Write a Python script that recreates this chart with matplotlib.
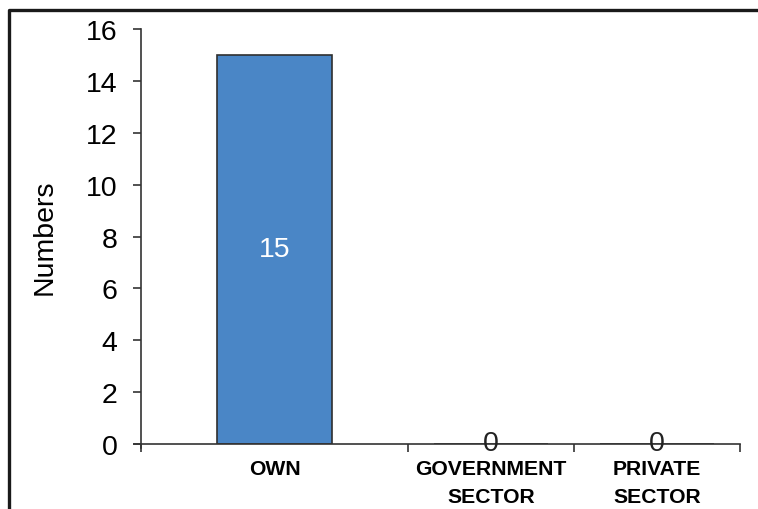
import matplotlib
matplotlib.use("Agg")
from matplotlib import pyplot as plt
from matplotlib.lines import Line2D

plt.rcParams['font.family'] = ['Liberation Sans', 'DejaVu Sans']

categories = ['OWN', 'GOVERNMENT\nSECTOR', 'PRIVATE\nSECTOR']
numbers = [15, 0, 0]
y_ticks = [0, 2, 4, 6, 8, 10, 12, 14, 16]

# category slots: the first one is wider than the other two
edges = [0, 1.61, 2.61, 3.61]
centers = [(edges[i] + edges[i + 1]) / 2 for i in range(len(categories))]

fig = plt.figure(figsize=(7.58, 5.10), dpi=100)
ax = fig.add_axes([0.186, 0.1275, 0.79, 0.8135])

ax.bar(centers, numbers, width=0.69, color='#4a86c6', edgecolor='#2f2f2f', linewidth=1.2, zorder=2)

for x, v in zip(centers, numbers):
    if v > 0:
        ax.text(x, v / 2, str(v), ha='center', va='center', color='white', fontsize=20.5)
    else:
        ax.text(x, v + 0.05, str(v), ha='center', va='center', color='#222222', fontsize=20.5)

ax.set_xlim(edges[0], edges[-1])
ax.set_ylim(0, 16)
ax.set_yticks(y_ticks)
ax.tick_params(axis='y', labelsize=20.5, direction='out', length=6, width=1.2, color='#333333', pad=11)

ax.set_xticks(edges)
ax.set_xticklabels([])
ax.set_xticks(centers, minor=True)
ax.set_xticklabels(categories, minor=True, fontweight='bold', fontsize=15.2, linespacing=1.6)
ax.tick_params(axis='x', which='major', direction='out', length=6, width=1.2, color='#333333')
ax.tick_params(axis='x', which='minor', length=0, pad=11)

for s in ['top', 'right']:
    ax.spines[s].set_visible(False)
for s in ['left', 'bottom']:
    ax.spines[s].set_linewidth(1.2)
    ax.spines[s].set_color('#333333')
ax.spines['bottom'].set_bounds(edges[0] - 0.04, edges[-1])
ax.spines['left'].set_bounds(-0.15, 16)

ax.set_ylabel('Numbers', fontsize=20.5, labelpad=20)

# outer frame
fig.add_artist(Line2D([0.0119, 0.0119, 1.0], [0.0, 0.978, 0.978], transform=fig.transFigure,
                      color='#1a1a1a', linewidth=2.4))

fig.savefig('out.png', dpi=100)
